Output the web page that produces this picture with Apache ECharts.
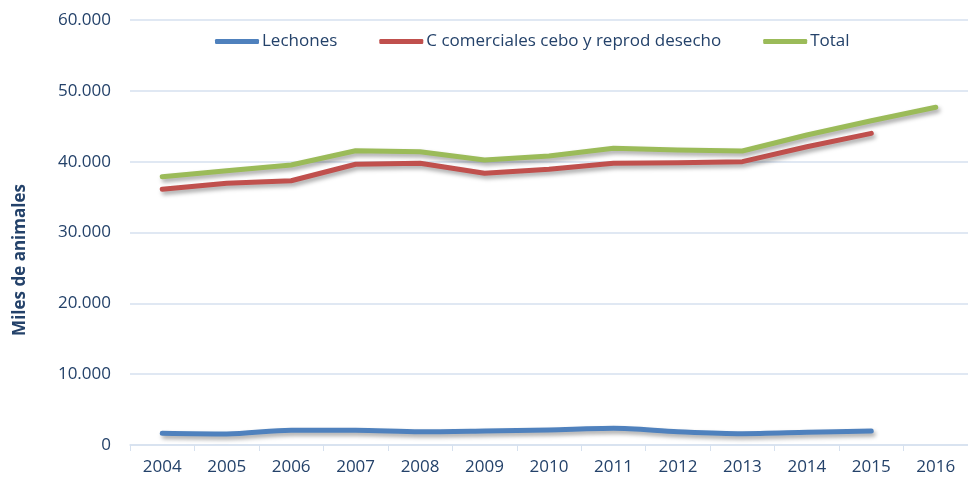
<!DOCTYPE html>
<html>
<head>
<meta charset="utf-8">
<script src="https://cdn.jsdelivr.net/npm/echarts@6/dist/echarts.min.js"></script>
<style>
    html, body { margin: 0; padding: 0; background: #fff; }
    #chart { width: 968px; height: 477px; }
</style>
</head>
<body>
<div id="chart"></div>
<script>
// datos
var years = ["2004", "2005", "2006", "2007", "2008", "2009", "2010", "2011", "2012", "2013", "2014", "2015", "2016"];
var lechones = [1650, 1550, 2100, 2100, 1880, 1980, 2120, 2350, 1880, 1600, 1790, 1980];
var comerciales = [36100, 36950, 37300, 39630, 39770, 38360, 38920, 39770, 39850, 40000, 42110, 44000];
var total = [37880, 38720, 39530, 41550, 41400, 40240, 40800, 41890, 41650, 41500, 43770, 45780, 47680];

var textColor = "#24426a";
var font = "Open Sans";

function fmt(v) {
    return String(v).replace(/\B(?=(\d{3})+(?!\d))/g, ".");
}

function lineSerie(name, data, color, smooth) {
    return {
        name: name,
        type: "line",
        data: data,
        symbol: "none",
        smooth: smooth,
        lineStyle: {
            color: color,
            width: 5,
            cap: "round",
            join: "round",
            shadowColor: "rgba(0,0,0,0.35)",
            shadowBlur: 4,
            shadowOffsetX: 2,
            shadowOffsetY: 3
        },
        itemStyle: { color: color }
    };
}

var myChart = echarts.init(document.getElementById('chart'));
var option = {
    animation: false,
    grid: {
        left: 130,
        top: 20,
        width: 845,
        height: 425
    },
    legend: {
        left: 210,
        top: 28,
        itemWidth: 44,
        itemHeight: 5,
        itemGap: 42,
        icon: "roundRect",
        textStyle: {
            color: textColor,
            fontFamily: font,
            fontSize: 17,
            padding: [0, 0, 0, -2]
        },
        data: ["Lechones", "C comerciales cebo y reprod desecho", "Total"]
    },
    xAxis: [
        {
            type: "category",
            data: years,
            boundaryGap: true,
            axisLine: { lineStyle: { color: "#d6e1ef", width: 1.5 } },
            axisTick: { show: true, length: 6, lineStyle: { color: "#d6e1ef" } },
            axisLabel: {
                color: textColor,
                fontFamily: font,
                fontSize: 17,
                margin: 14
            }
        }
    ],
    yAxis: [
        {
            type: "value",
            min: 0,
            max: 60000,
            interval: 10000,
            axisLine: { show: false },
            axisTick: { show: false },
            splitLine: { lineStyle: { color: "#d6e1ef", width: 1.5 } },
            axisLabel: {
                color: textColor,
                fontFamily: font,
                fontSize: 17,
                margin: 19,
                formatter: fmt
            }
        }
    ],
    graphic: [
        {
            type: "text",
            x: 20,
            y: 260,
            rotation: Math.PI / 2,
            style: {
                text: "Miles de animales",
                fill: textColor,
                font: "bold 17px 'Open Sans'",
                textAlign: "center",
                textVerticalAlign: "middle"
            }
        }
    ],
    series: [
        lineSerie("Lechones", lechones, "#4f81bd", 0.3),
        lineSerie("C comerciales cebo y reprod desecho", comerciales, "#c0504d", false),
        lineSerie("Total", total, "#9bbb59", false)
    ]
};
myChart.setOption(option);
</script>
</body>
</html>
